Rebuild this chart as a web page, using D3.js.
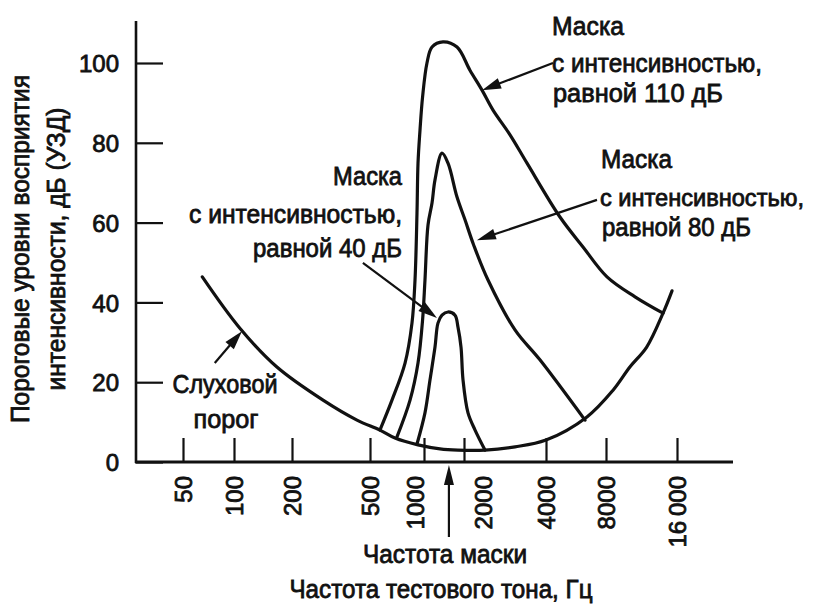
<!DOCTYPE html>
<html>
<head>
<meta charset="utf-8">
<script src="https://cdn.jsdelivr.net/npm/d3@7"></script>
<style>
  html, body { margin: 0; padding: 0; background: #fff; }
  svg { display: block; }
  text { font-family: "Liberation Sans", Arial, sans-serif; fill: #111; }
</style>
</head>
<body>
<svg id="chart" width="820" height="605"></svg>
<script>
// ---- Data -------------------------------------------------------------
// Axis ticks
const freqTicks  = [50, 100, 200, 500, 1000, 2000, 4000, 8000, 16000];   // Hz
const levelTicks = [0, 20, 40, 60, 80, 100];                              // dB SPL

// Absolute hearing threshold (Hz, dB)
const thresholdFreq = [65, 107, 167, 288, 429, 568, 689, 926, 1320, 1800, 2390, 3080, 4000, 6420, 8570, 10100, 11900, 13960, 15240];
const thresholdDb   = [46.4, 33.6, 23.8, 15.5, 10.5, 8.0, 6.0, 4.3, 3.3, 3.0, 3.0, 3.8, 5.5, 11.3, 18.0, 23.8, 28.8, 37.3, 42.9];

// Masked threshold, masker at 110 dB
const mask110Freq = [568, 663, 784, 857, 891, 914, 926, 950, 982, 1053, 1149, 1390, 1772, 2103, 2329, 2556, 2951, 3407, 4700, 6133, 8080, 10620, 13960];
const mask110Db   = [8.0, 15.5, 24.8, 34.8, 45.6, 62.4, 74.9, 83.2, 91.5, 100, 104, 105.3, 104, 98.2, 93.2, 88.2, 82, 74.9, 61.4, 53.9, 46.4, 41.4, 37.3];

// Masked threshold, masker at 80 dB
const mask80Freq = [707, 836, 926, 982, 1017, 1072, 1149, 1210, 1366, 1516, 1772, 2017, 2170, 2450, 3078, 3800, 6276];
const mask80Db   = [6.3, 15.5, 24.8, 35.6, 45.6, 59.4, 64.9, 70.7, 77.4, 74.9, 66.4, 60.7, 54.4, 45.6, 33.1, 25.6, 10.5];

// Masked threshold, masker at 40 dB
const mask40Freq = [914, 1017, 1110, 1210, 1274, 1366, 1516, 1711, 1802, 1899, 1966, 2069, 2196, 2388];
const mask40Db   = [4.5, 12.3, 20.6, 28.8, 34.8, 36.8, 37.6, 36.8, 33.8, 28.8, 20.6, 12.3, 8.0, 3.0];

// Masker frequency, Hz
const maskerFreq = 1540;

// ---- Layout -----------------------------------------------------------
const frame = { left: 136, right: 733, top: 21, bottom: 462 };
// printed spacing of the frequency ticks along the axis
const freqTickPx = [183, 234, 292, 370, 424, 464, 546, 606, 677];

const svg = d3.select("#chart");
const ink = "#111";

const x = d3.scaleLog().domain(freqTicks).range(freqTickPx);
const y = d3.scaleLinear().domain([0, 100]).range([frame.bottom, 63]);

// text helper: fixed rendered width
function label(g, txt, px, py, size, width, anchor, rotate) {
  const t = g.append("text")
    .attr("font-size", size)
    .attr("text-anchor", anchor || "start")
    .attr("stroke", ink).attr("stroke-width", 0.8)
    .text(txt);
  if (width) t.attr("textLength", width).attr("lengthAdjust", "spacingAndGlyphs");
  if (rotate) t.attr("transform", `translate(${px},${py}) rotate(${rotate})`);
  else t.attr("x", px).attr("y", py);
  return t;
}

// ---- Axes -------------------------------------------------------------
const yAxis = d3.axisLeft(y).tickValues(levelTicks)
  .tickSizeInner(-27).tickSizeOuter(0).tickPadding(17);
const gy = svg.append("g").attr("transform", `translate(${frame.left},0)`).call(yAxis);
gy.select(".domain").remove();
gy.selectAll(".tick line").attr("stroke", ink).attr("stroke-width", 2.2);
gy.selectAll(".tick text").attr("font-size", 24).attr("font-family", "Liberation Sans, Arial, sans-serif")
  .attr("fill", ink).attr("stroke", ink).attr("stroke-width", 0.8).attr("dy", "0.36em");

const fmt = d => d >= 10000 ? d3.format(",")(d).replace(",", "\u2009") : String(d);
const xAxis = d3.axisBottom(x).tickValues(freqTicks).tickFormat(fmt)
  .tickSizeInner(-24).tickSizeOuter(0);
const gx = svg.append("g").attr("transform", `translate(0,${frame.bottom})`).call(xAxis);
gx.select(".domain").remove();
gx.selectAll(".tick line").attr("stroke", ink).attr("stroke-width", 2.2);
// rotated labels; those crowding the masker arrow are nudged aside
const arrowX = x(maskerFreq);
gx.selectAll(".tick text")
  .attr("font-size", 24).attr("font-family", "Liberation Sans, Arial, sans-serif")
  .attr("fill", ink).attr("stroke", ink).attr("stroke-width", 0.8)
  .attr("text-anchor", "end")
  .attr("transform", "rotate(-90)")
  .attr("x", -14)
  .attr("dy", "0.36em")
  .attr("y", d => {
    const dx = x(d) - arrowX, gap = 34;
    if (Math.abs(dx) >= gap) return 0;
    return dx < 0 ? -(gap + dx) : gap - dx;
  });

// frame lines
svg.append("line").attr("x1", frame.left).attr("x2", frame.left)
  .attr("y1", frame.top).attr("y2", frame.bottom + 1)
  .attr("stroke", ink).attr("stroke-width", 2.6);
svg.append("line").attr("x1", frame.left - 1).attr("x2", frame.right)
  .attr("y1", frame.bottom).attr("y2", frame.bottom)
  .attr("stroke", ink).attr("stroke-width", 3);

// ---- Curves -----------------------------------------------------------
const line = d3.line().x(d => x(d[0])).y(d => y(d[1])).curve(d3.curveCatmullRom.alpha(0.5));
const series = [
  [thresholdFreq, thresholdDb],
  [mask110Freq, mask110Db],
  [mask80Freq, mask80Db],
  [mask40Freq, mask40Db]
];
svg.append("g").selectAll("path").data(series).join("path")
  .attr("d", s => line(d3.zip(s[0], s[1])))
  .attr("fill", "none").attr("stroke", ink).attr("stroke-width", 3.2)
  .attr("stroke-linejoin", "round").attr("stroke-linecap", "round");

// ---- Arrows -----------------------------------------------------------
function arrow(g, x1, y1, x2, y2, len, half) {
  const dx = x2 - x1, dy = y2 - y1, L = Math.hypot(dx, dy);
  const ux = dx / L, uy = dy / L;
  const bx = x2 - ux * len, by = y2 - uy * len;
  g.append("line").attr("x1", x1).attr("y1", y1)
    .attr("x2", x2 - ux * (len - 2)).attr("y2", y2 - uy * (len - 2))
    .attr("stroke", ink).attr("stroke-width", 2.2);
  g.append("path")
    .attr("d", `M${x2},${y2}L${bx - uy * half},${by + ux * half}L${bx + uy * half},${by - ux * half}Z`)
    .attr("fill", ink);
}
const arrowsData = [
  { from: [4336, 100], to: [2329, 93.2] },
  { from: [7210, 65.7], to: [2230, 55.6] },
  { from: [460, 49.9], to: [1252, 36.1] },
  { from: [77, 24.8], to: [110, 32.8] }
];
const ga = svg.append("g");
arrowsData.forEach(a => arrow(ga, x(a.from[0]), y(a.from[1]), x(a.to[0]), y(a.to[1]), 19, 5.5));
// masker frequency marker below the axis
arrow(ga, arrowX, 537, arrowX, frame.bottom + 3, 20, 5);

// ---- Text -------------------------------------------------------------
const gt = svg.append("g");
// masker 110 dB
label(gt, "Маска", 552, 35, 26, 72);
label(gt, "с интенсивностью,", 552, 72, 26, 210);
label(gt, "равной 110 дБ", 553, 102, 26, 170);
// masker 80 dB
label(gt, "Маска", 601, 168, 26, 71);
label(gt, "с интенсивностью,", 600, 206, 24, 204);
label(gt, "равной 80 дБ", 602, 236, 26, 149);
// masker 40 dB
label(gt, "Маска", 402, 185, 26, 69, "end");
label(gt, "с интенсивностью,", 402, 223, 26, 213, "end");
label(gt, "равной 40 дБ", 402, 257, 26, 149, "end");
// hearing threshold
label(gt, "Слуховой", 225, 393, 26, 105, "middle");
label(gt, "порог", 226, 428, 26, 65, "middle");
// x titles
label(gt, "Частота маски", 445, 563, 26, 164, "middle");
label(gt, "Частота тестового тона, Гц", 441, 598, 26, 303, "middle");
// y title
label(gt, "Пороговые уровни восприятия", 29, 249, 25, 348, "middle", -90);
label(gt, "интенсивности, дБ (УЗД)", 65, 249, 25, 283, "middle", -90);
</script>
</body>
</html>
